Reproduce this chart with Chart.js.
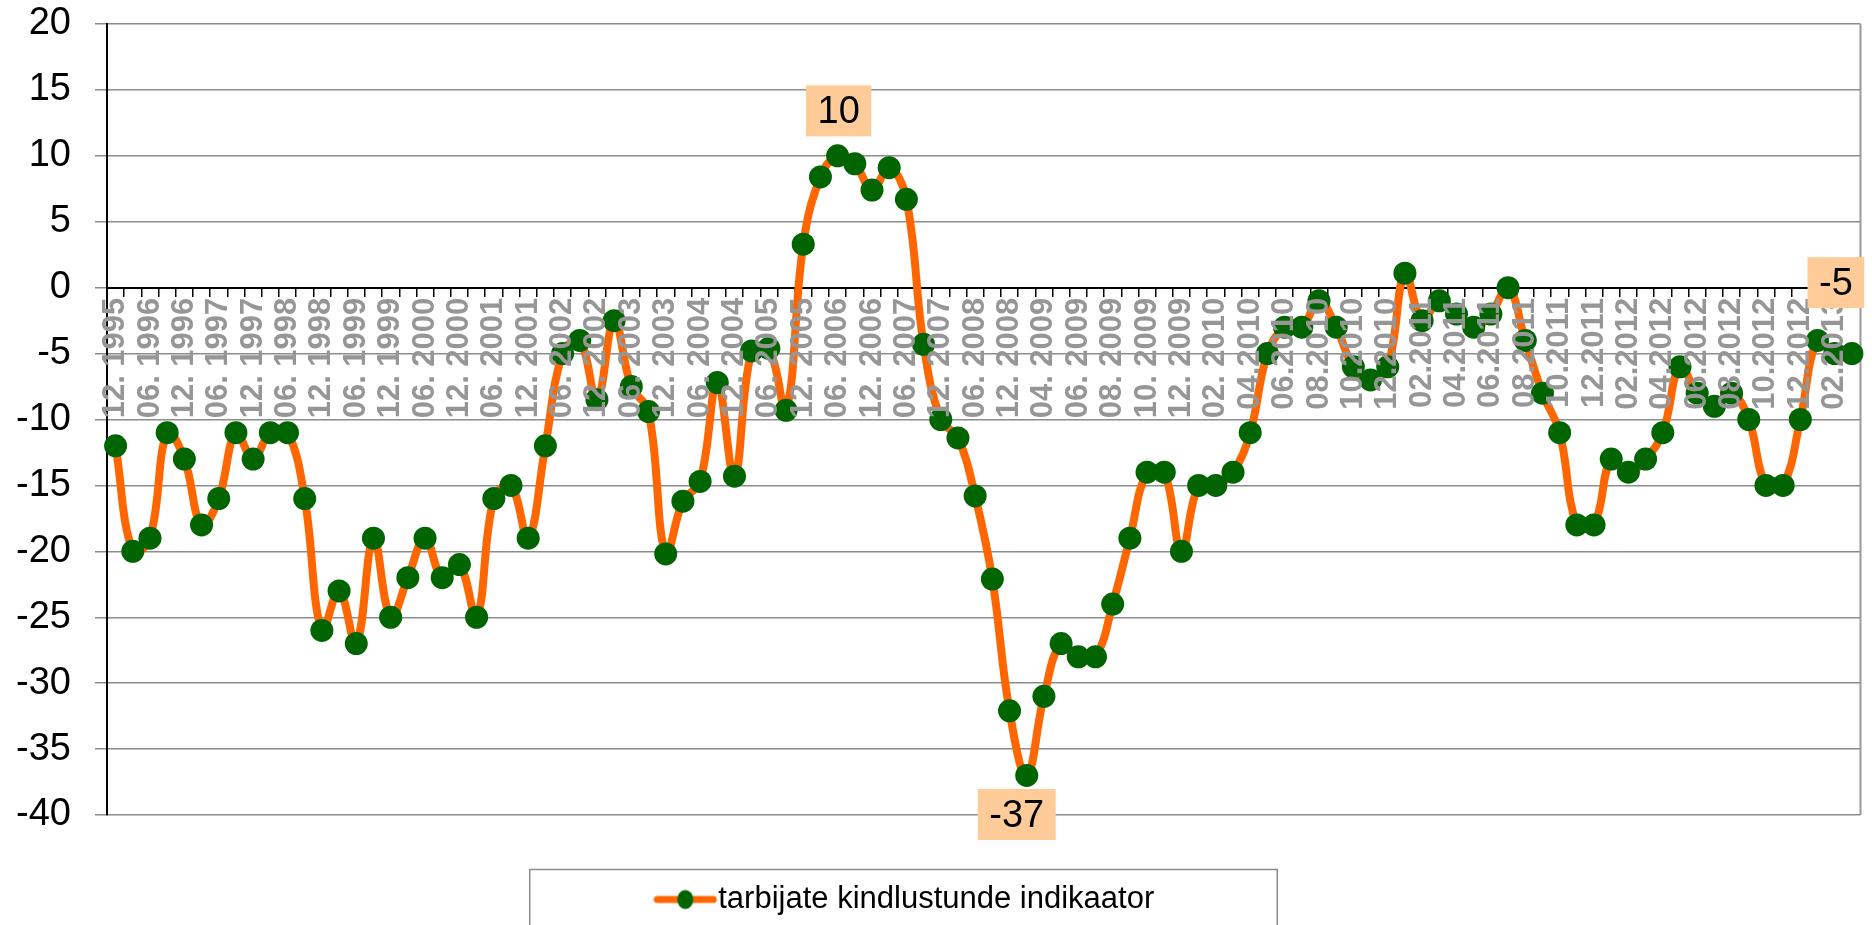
<!DOCTYPE html>
<html>
<head>
<meta charset="utf-8">
<script src="https://cdn.jsdelivr.net/npm/chart.js@4.4.1/dist/chart.umd.min.js"></script>
<style>
html,body{margin:0;padding:0;background:#fff;}
#wrap{width:1872px;height:925px;position:relative;}
</style>
</head>
<body>
<div id="wrap"><canvas id="c" width="1872" height="925"></canvas></div>
<script>
// ---- data ----
const categories = [
  "12. 1995",
  "03. 1996","06. 1996","09. 1996","12. 1996",
  "03. 1997","06. 1997","09. 1997","12. 1997",
  "03. 1998","06. 1998","09. 1998","12. 1998",
  "03. 1999","06. 1999","09. 1999","12. 1999",
  "03. 2000","06. 2000","09. 2000","12. 2000",
  "03. 2001","06. 2001","09. 2001","12. 2001",
  "03. 2002","06. 2002","09. 2002","12. 2002",
  "03. 2003","06. 2003","09. 2003","12. 2003",
  "03. 2004","06. 2004","09. 2004","12. 2004",
  "03. 2005","06. 2005","09. 2005","12. 2005",
  "03. 2006","06. 2006","09. 2006","12. 2006",
  "03. 2007","06. 2007","09. 2007","12. 2007",
  "03. 2008","06. 2008","09. 2008","12. 2008",
  "03. 2009",
  "04. 2009","05. 2009","06. 2009","07. 2009","08. 2009","09. 2009",
  "10. 2009","11. 2009","12. 2009","01. 2010","02. 2010","03. 2010",
  "04.2010","05.2010","06.2010","07.2010","08.2010","09.2010",
  "10.2010","11.2010","12.2010",
  "01.2011","02.2011","03.2011","04.2011","05.2011","06.2011",
  "07.2011","08.2011","09.2011","10.2011","11.2011","12.2011",
  "01.2012","02.2012","03.2012","04.2012","05.2012","06.2012",
  "07.2012","08.2012","09.2012","10.2012","11.2012","12.2012",
  "01.2013","02.2013","03.2013"
];

const seriesName = "tarbijate kindlustunde indikaator";

const values = [
  -12, -20, -19, -11, -13, -18, -16, -11, -13, -11,
  -11, -16, -26, -23, -27, -19, -25, -22, -19, -22,
  -21, -25, -16, -15, -19, -12, -5, -4, -8.5, -2.5,
  -7.5, -9.4, -20.2, -16.2, -14.7, -7.2, -14.3, -4.8, -4.6, -9.3,
  3.3, 8.4, 10, 9.4, 7.4, 9.1, 6.7, -4.3, -10, -11.4,
  -15.8, -22.1, -32.1, -37, -31, -27, -28, -28, -24, -19,
  -14, -14, -20, -15, -15, -14, -11, -5, -3, -3,
  -1, -3, -6, -7, -6, 1.1, -2.5, -1, -2, -3,
  -2, 0, -4, -8, -11, -18, -18, -13, -14, -13,
  -11, -6, -8, -9, -8, -10, -15, -15, -10, -4,
  -5, -5
];

const yTickValues = [-40, -35, -30, -25, -20, -15, -10, -5, 0, 5, 10, 15, 20];

// points that carry a value label (max, min, last)
const labelledPoints = [42, 53, 101];

// ---- styling ----
const FONT = '"Liberation Sans", Arial, sans-serif';
const labelOffsets = { 42: {dx: 1, dy: -45}, 53: {dx: -10, dy: 39}, 101: {dx: -16, dy: -71} };

const legendIcon = document.createElement('canvas');
legendIcon.width = 64; legendIcon.height = 24;
(function(){
  const lc = legendIcon.getContext('2d');
  lc.strokeStyle = '#FF6600'; lc.lineWidth = 7; lc.lineCap = 'round';
  lc.beginPath(); lc.moveTo(4, 12); lc.lineTo(60, 12); lc.stroke();
  lc.fillStyle = '#006400';
  lc.beginPath(); lc.ellipse(32, 12, 8, 9.5, 0, 0, Math.PI * 2); lc.fill();
})();

const extras = {
  id: 'extras',
  beforeDatasetsDraw(chart) {
    const {ctx, chartArea: a} = chart;
    ctx.save();
    ctx.strokeStyle = '#999999'; ctx.lineWidth = 2;
    ctx.beginPath(); ctx.moveTo(a.right, a.top); ctx.lineTo(a.right, a.bottom); ctx.stroke();
    ctx.restore();
  },
  afterDraw(chart) {
    const ctx = chart.ctx;
    const meta = chart.getDatasetMeta(0);
    ctx.save();
    ctx.font = '38px ' + FONT;
    ctx.textAlign = 'center';
    ctx.textBaseline = 'middle';
    labelledPoints.forEach(idx => {
      const el = meta.data[idx];
      const o = labelOffsets[idx];
      const txt = String(values[idx]);
      const w = ctx.measureText(txt).width + 23, h = 51;
      const cx = el.x + o.dx, cy = el.y + o.dy;
      ctx.fillStyle = '#FFCC99';
      ctx.fillRect(cx - w / 2, cy - h / 2, w, h);
      ctx.fillStyle = '#000000';
      ctx.fillText(txt, cx, cy + 2);
    });
    // legend frame
    const hb = chart.legend && chart.legend.legendHitBoxes && chart.legend.legendHitBoxes[0];
    if (hb) {
      const left = hb.left - 138, right = hb.left + hb.width + 123;
      const top = hb.top + hb.height / 2 - 30;
      ctx.strokeStyle = '#8a8a8a'; ctx.lineWidth = 1.5;
      ctx.strokeRect(left, top, right - left, 80);
    }
    ctx.restore();
  }
};

new Chart(document.getElementById('c'), {
  type: 'line',
  data: {
    labels: categories,
    datasets: [{
      label: seriesName,
      data: values,
      borderColor: '#FF6600',
      backgroundColor: '#006400',
      borderWidth: 8,
      tension: 0.4,
      fill: false,
      clip: false,
      pointRadius: 11.5,
      pointBackgroundColor: '#006400',
      pointBorderColor: '#006400',
      pointBorderWidth: 0
    }]
  },
  options: {
    responsive: false,
    devicePixelRatio: 1,
    animation: false,
    events: [],
    layout: { padding: { left: -45, right: 5, top: 24, bottom: 0 } },
    scales: {
      x: {
        type: 'category',
        position: { y: 0 },
        offset: true,
        grid: { offset: true, drawOnChartArea: false, drawTicks: true, tickLength: 8, color: '#000000', lineWidth: 1.5 },
        border: { display: true, color: '#000000', width: 2 },
        ticks: {
          autoSkip: false, minRotation: 90, maxRotation: 90, padding: 2, z: 1,
          color: '#969696',
          font: { size: 31, weight: 'bold', family: FONT },
          callback: (v, i) => (i % 2 === 0 ? categories[i] : '')
        },
        afterFit(s) { s.paddingLeft = 0; s.paddingRight = 0; s.paddingTop = 0; s.paddingBottom = 0; }
      },
      y: {
        min: -40, max: 20,
        afterBuildTicks(s) { s.ticks = yTickValues.map(v => ({ value: v })); },
        grid: { color: '#8c8c8c', lineWidth: 1.5, drawTicks: true, tickLength: 12, tickColor: '#8c8c8c' },
        border: { display: true, color: '#000000', width: 2 },
        ticks: { padding: 24, color: '#000000', font: { size: 38, family: FONT } },
        afterFit(s) { s.width = 152; s.paddingTop = 0; s.paddingBottom = 0; }
      }
    },
    plugins: {
      tooltip: { enabled: false },
      legend: {
        display: true,
        position: 'bottom',
        labels: {
          usePointStyle: true,
          pointStyle: legendIcon,
          pointStyleWidth: 35,
          padding: 69,
          color: '#000000',
          font: { size: 31, family: FONT }
        }
      }
    }
  },
  plugins: [extras]
});
</script>
</body>
</html>
